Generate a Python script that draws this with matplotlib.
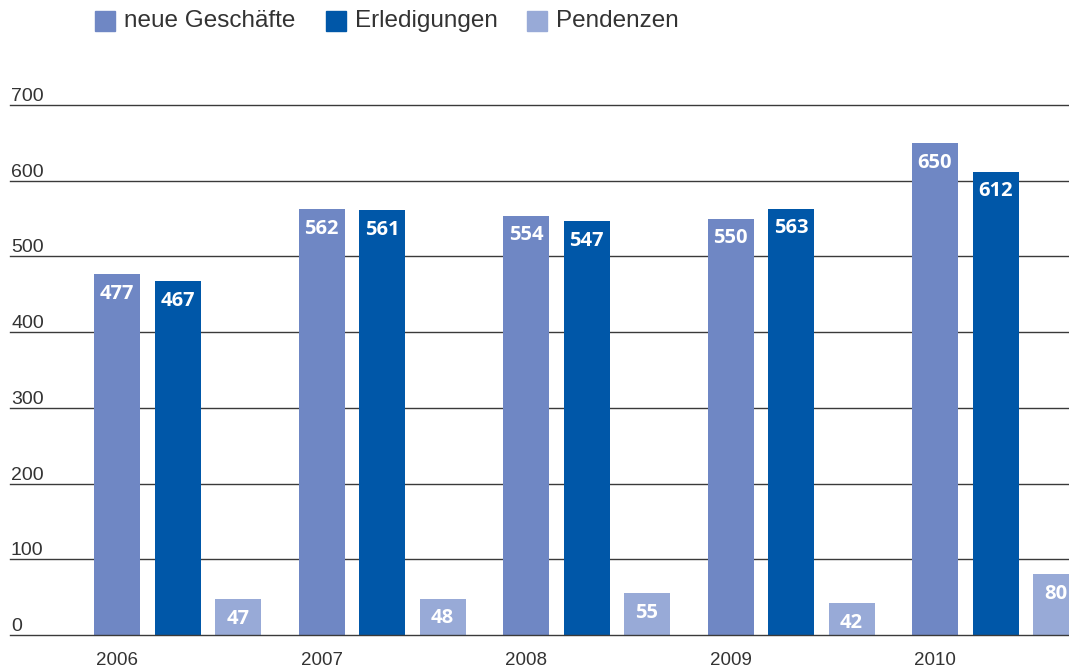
import matplotlib
matplotlib.use("Agg")
import matplotlib.pyplot as plt
from matplotlib.patches import Rectangle
from matplotlib.transforms import blended_transform_factory, offset_copy

years = ["2006", "2007", "2008", "2009", "2010"]
series_names = ["neue Geschäfte", "Erledigungen", "Pendenzen"]
neue = [477, 562, 554, 550, 650]
erledigungen = [467, 561, 547, 563, 612]
pendenzen = [47, 48, 55, 42, 80]
y_ticks = [0, 100, 200, 300, 400, 500, 600, 700]

colors = ["#6F87C4", "#0057A8", "#98AAD7"]
text_color = "#333333"
W, H = 1069, 669

fig = plt.figure(figsize=(W / 100, H / 100), dpi=100)
ax = fig.add_axes([10 / W, 34 / H, 1 - 10 / W, (635 - 105) / H])

group_step = 1.0
inner = 60.5 / 204.5
width = 46 / 204.5
ax.set_xlim(-107 / 204.5, (1069 - 117) / 204.5)
ax.set_ylim(0, 700)

for yt in y_ticks:
    ax.axhline(yt, color="#3a3a3a", lw=1.0, zorder=1 if yt else 4, clip_on=False)

for j, vals in enumerate([neue, erledigungen, pendenzen]):
    xs = [i * group_step + j * inner for i in range(len(years))]
    ax.bar(xs, vals, width=width, color=colors[j], zorder=2, clip_on=True)
    for x, v in zip(xs, vals):
        ax.annotate(str(v), (x, v), xytext=(0, -7), textcoords="offset points",
                    ha="center", va="top", color="white", fontsize=14.5,
                    fontweight="bold", family="Open Sans", zorder=3,
                    annotation_clip=False)

for s in ax.spines.values():
    s.set_visible(False)
ax.set_yticks([])
ax.set_xticks([i * group_step for i in range(len(years))])
ax.set_xticklabels(years, fontsize=13.5, color=text_color, family="Liberation Sans")
ax.tick_params(axis="x", length=0, pad=12)

trans = blended_transform_factory(ax.transAxes, ax.transData)
for yt in y_ticks:
    ax.text(0, yt, str(yt), transform=offset_copy(trans, fig=fig, x=1, y=0, units="dots"),
            ha="left", va="bottom", fontsize=14, color=text_color, family="Liberation Sans")

# legend
leg_sq_x = [95, 326, 527]
leg_tx_x = [124, 355, 556]
for k, name in enumerate(series_names):
    fig.patches.append(Rectangle((leg_sq_x[k] / W, 1 - 31 / H), 20 / W, 20 / H,
                                 transform=fig.transFigure, color=colors[k]))
    fig.text(leg_tx_x[k] / W, 1 - 21 / H, name, ha="left", va="center",
             fontsize=17.5, color=text_color, family="Liberation Sans")

fig.savefig("out.png", dpi=100)
